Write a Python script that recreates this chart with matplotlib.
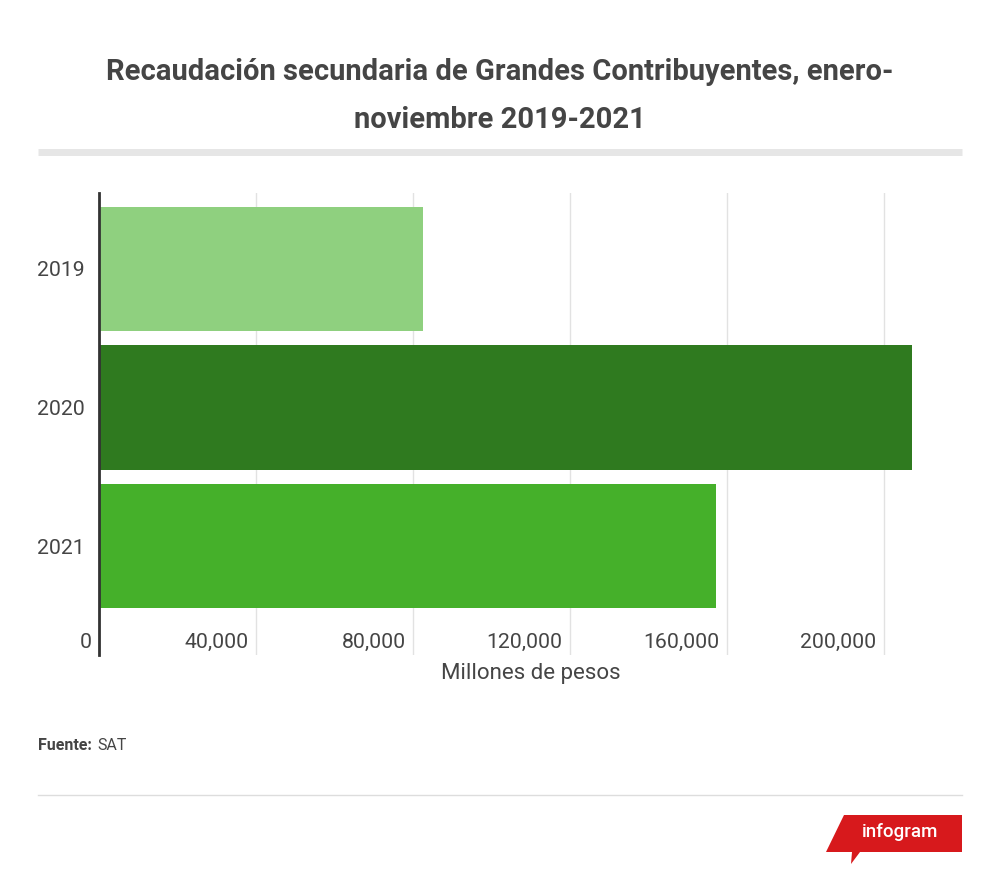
import matplotlib
matplotlib.use("Agg")
import matplotlib.pyplot as plt
import matplotlib.transforms as mtransforms
from matplotlib.patches import Polygon
from matplotlib.lines import Line2D

# ---- data ----
years = ["2019", "2020", "2021"]
values = [82700, 207200, 157300]
colors = ["#8fd07f", "#2f7a1f", "#45b02a"]
xticks = [0, 40000, 80000, 120000, 160000, 200000]
xtick_labels = ["0", "40,000", "80,000", "120,000", "160,000", "200,000"]
title = "Recaudación secundaria de Grandes Contribuyentes, enero-\nnoviembre 2019-2021"
xlabel = "Millones de pesos"

plt.rcParams['font.family'] = ['Roboto', 'DejaVu Sans']
TXT = "#454545"

fig = plt.figure(figsize=(10, 8.85), dpi=100)
fig.patch.set_facecolor("white")

W, H = 1000, 885
def fx(px): return px / W
def fy(py): return 1 - py / H

ax = fig.add_axes([fx(99), fy(655), fx(962) - fx(99), fy(193) - fy(655)])
pos = list(range(len(years)))
ax.barh(pos, values, height=0.895, color=colors, zorder=3)
ax.set_ylim(2.786, -0.548)
ax.set_xlim(0, 220000)
ax.set_yticks(pos)
ax.set_yticklabels(years)
ax.set_xticks(xticks)
ax.set_xticklabels(xtick_labels)

for s in ["top", "right", "bottom"]:
    ax.spines[s].set_visible(False)
ax.spines["left"].set_color("#333333")
ax.spines["left"].set_linewidth(2)
ax.spines["left"].set_zorder(4)
ax.grid(axis="x", color="#e2e2e2", linewidth=1, zorder=0)
ax.tick_params(axis="both", length=0, labelsize=15.3, labelcolor=TXT)
ax.tick_params(axis="y", pad=10)
ax.tick_params(axis="x", pad=-16)
off = mtransforms.ScaledTranslation(-7 / 100, 0, fig.dpi_scale_trans)
for lab in ax.get_xticklabels():
    lab.set_horizontalalignment("right")
    lab.set_transform(lab.get_transform() + off)

ax.set_xlabel(xlabel, fontsize=16, color=TXT)
ax.xaxis.set_label_coords(0.5, -0.041)
ax.xaxis.label.set_verticalalignment("center")

# title
fig.text(0.5, fy(96), title, ha="center", va="center", fontsize=21,
         fontweight="bold", color=TXT, linespacing=1.88)

# divider lines
fig.add_artist(Line2D([fx(38), fx(962)], [fy(151.5), fy(151.5)], color="#e6e6e6", linewidth=5,
                      solid_capstyle="butt"))
fig.add_artist(Line2D([fx(38), fx(962)], [fy(795), fy(795)], color="#dddddd", linewidth=1))

# source
fig.text(fx(38), fy(745), "Fuente:", fontsize=11.5, fontweight="bold", color=TXT, va="center")
fig.text(fx(97), fy(745), "SAT", fontsize=11.5, color=TXT, va="center")

# infogram logo
logo = [(844, 815), (962, 815), (962, 852), (860, 852), (851, 864), (852, 852), (826, 852)]
fig.add_artist(Polygon([(fx(x), fy(y)) for x, y in logo], closed=True,
                       facecolor="#d7191c", edgecolor="none", transform=fig.transFigure))
fig.text(fx(900), fy(832), "infogram", fontsize=13.5, color="white", ha="center", va="center",
         fontweight="medium")

fig.savefig("out.png", dpi=100, facecolor="white")
